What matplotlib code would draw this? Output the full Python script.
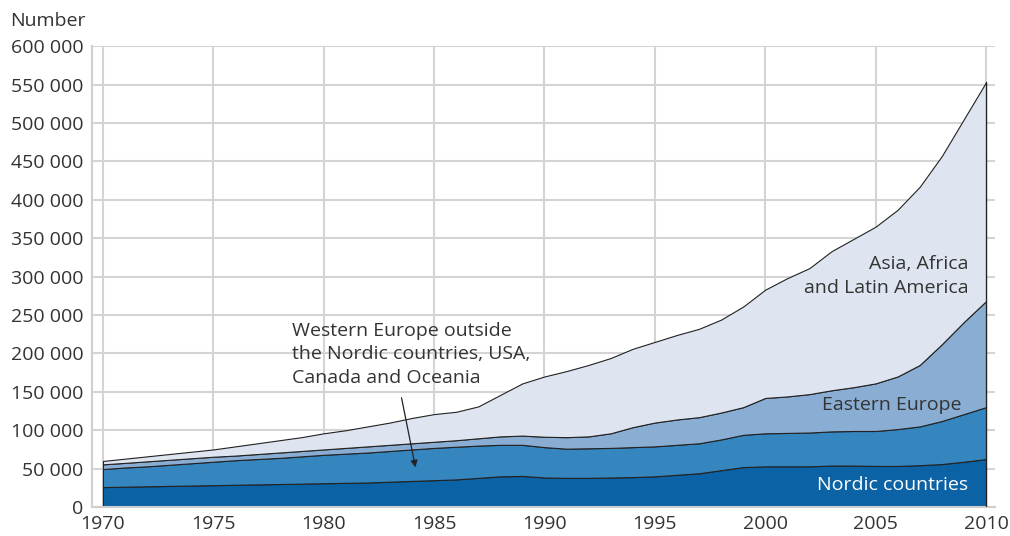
import matplotlib.pyplot as plt
import matplotlib
from matplotlib.ticker import FuncFormatter, MultipleLocator

matplotlib.rcParams['font.family'] = ['Open Sans', 'DejaVu Sans']

# values in thousands
years = list(range(1970, 2011))
nordic = [26, 26.5, 27, 27.5, 28, 28.5, 29, 29.5, 30, 30.5,
          31, 31.5, 32, 33, 34, 35, 36, 38, 40, 40.5,
          38.5, 38, 38, 38.5, 39, 40, 42, 44, 48, 52,
          53, 53, 53, 54, 54, 53.5, 53.5, 54.5, 56, 59, 62.5]
western = [23.5, 25, 26, 27.5, 29, 30.5, 32, 33, 34, 35.5,
           37, 38, 39, 40, 41, 42, 42.5, 42, 41, 40.5,
           39.5, 38, 38.5, 38.5, 39, 39, 39, 39, 40, 42,
           43, 43.5, 44, 44.5, 45, 45.5, 48, 50.5, 56, 62, 67.5]
eastern = [6.1, 6, 6.5, 6.5, 6.5, 6.5, 6, 6.5, 7, 7,
           7, 7.5, 8, 8, 8, 8, 8.5, 9.5, 11, 12,
           13.5, 15, 15.5, 19, 26, 31, 33, 34, 35, 36,
           46, 47.5, 50, 53.5, 57, 62, 68.5, 80, 100, 120, 138]
asia = [4.4, 5.5, 6.5, 7.5, 8.5, 9.5, 12, 14, 16, 18,
        21, 23, 26, 29, 33, 36, 37, 41.5, 54, 68,
        78.5, 86, 93, 98, 102, 105, 110, 115, 121, 131,
        141, 154, 164, 181, 193, 204, 217, 232, 245, 264, 285]

series = [nordic, western, eastern, asia]
series = [[v * 1000 for v in s] for s in series]
colors = ['#0b62a4', '#3585bf', '#8aadd3', '#dee5f0']

fig = plt.figure(figsize=(10.1, 5.36), dpi=100)
ax = fig.add_axes([0.091, 0.054, 0.894, 0.86])

ax.stackplot(years, *series, colors=colors, edgecolor='#222222', linewidth=0.8, zorder=2)
# right edge line at 2010
ax.plot([2010, 2010], [0, sum(s[-1] for s in series)], color='#222222', lw=0.9, zorder=3)

ax.set_xlim(1969.5, 2010.4)
ax.set_ylim(0, 600000)
ax.xaxis.set_major_locator(MultipleLocator(5))
ax.yaxis.set_major_locator(MultipleLocator(50000))
ax.yaxis.set_major_formatter(FuncFormatter(lambda v, p: f'{int(v):,}'.replace(',', ' ')))

ax.grid(True, color='#d4d4d4', linewidth=1.5, zorder=0)
ax.set_axisbelow(True)
for side in ['top', 'right']:
    ax.spines[side].set_visible(False)
for side in ['left', 'bottom']:
    ax.spines[side].set_color('#cfcfcf')
    ax.spines[side].set_linewidth(1.5)
ax.tick_params(length=0, labelsize=14, colors='#333333', pad=6)

fig.text(0.01, 0.96, 'Number', fontsize=14, color='#333333', va='center')

txt = dict(fontsize=14, color='#333333')
ax.text(2009.2, 300800, 'Asia, Africa\nand Latin America', ha='right', va='center',
        linespacing=1.38, **txt)
ax.text(2008.9, 132800, 'Eastern Europe', ha='right', va='center', **txt)
ax.text(2009.2, 28600, 'Nordic countries', ha='right', va='center', fontsize=14, color='white')
ax.text(1978.56, 241000, 'Western Europe outside\nthe Nordic countries, USA,\nCanada and Oceania',
        ha='left', va='top', linespacing=1.38, **txt)
ax.annotate('', xy=(1984.18, 48200), xytext=(1983.5, 145800),
            arrowprops=dict(arrowstyle='-|>', color='#222222', lw=0.9, mutation_scale=10), zorder=5)

plt.savefig('out.png', dpi=100)
